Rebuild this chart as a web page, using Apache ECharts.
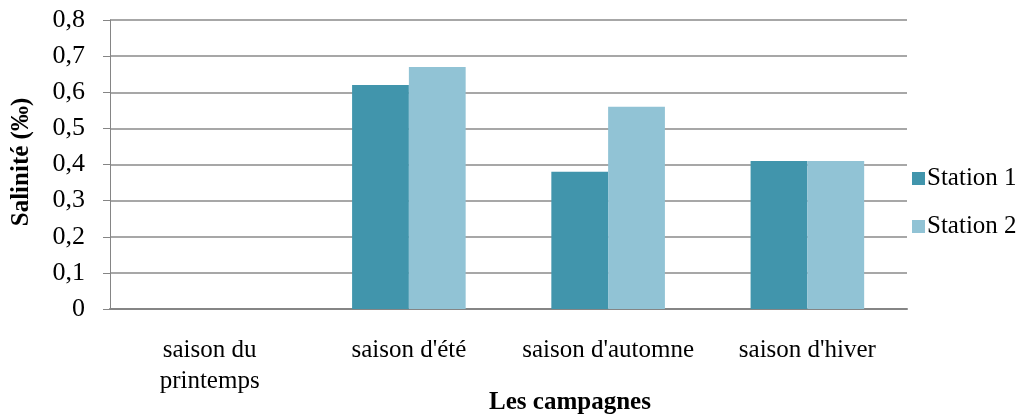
<!DOCTYPE html>
<html>
<head>
<meta charset="utf-8">
<script src="https://cdn.jsdelivr.net/npm/echarts@6/dist/echarts.min.js"></script>
<style>
  html, body { margin: 0; padding: 0; background: #fff; }
  #chart { width: 1021px; height: 416px; }
</style>
</head>
<body>
<div id="chart"></div>
<script>
// Salinity per sampling campaign, two stations
const categories = ['saison du\nprintemps', "saison d'été", "saison d'automne", "saison d'hiver"];
const station1 = [0, 0.62, 0.38, 0.41];
const station2 = [0, 0.67, 0.56, 0.41];
const seriesNames = ['Station 1', 'Station 2'];
const yMin = 0, yMax = 0.8, yStep = 0.1;

const FONT = '"Liberation Serif", "DejaVu Serif", serif';
const chart = echarts.init(document.getElementById('chart'));

chart.setOption({
  animation: false,
  textStyle: { fontFamily: FONT, color: '#000' },
  grid: { left: 110, right: 114, top: 20, bottom: 107, containLabel: false },
  legend: {
    orient: 'vertical',
    left: 907,
    top: 161,
    itemWidth: 13,
    itemHeight: 13,
    itemGap: 23,
    icon: 'rect',
    textStyle: { fontFamily: FONT, fontSize: 25, color: '#000', padding: [0, 0, 0, -3] },
    data: seriesNames
  },
  xAxis: {
    type: 'category',
    data: categories,
    axisLine: { lineStyle: { color: '#858585', width: 2 } },
    axisTick: { show: false },
    axisLabel: {
      fontFamily: FONT, fontSize: 25, color: '#000',
      lineHeight: 31, margin: 26, interval: 0
    }
  },
  yAxis: {
    type: 'value',
    min: yMin, max: yMax, interval: yStep,
    axisLine: { show: true, lineStyle: { color: '#858585', width: 1 } },
    axisTick: { show: true, length: 7, lineStyle: { color: '#858585' } },
    splitLine: { lineStyle: { color: '#8a8a8a', width: 1.6 } },
    axisLabel: {
      fontFamily: FONT, fontSize: 26, color: '#000', margin: 25,
      formatter: v => v === 0 ? '0' : v.toFixed(1).replace('.', ',')
    }
  },
  graphic: [
    {
      type: 'text',
      x: 570, y: 403,
      style: {
        text: 'Les campagnes', font: 'bold 25px ' + FONT, fill: '#000',
        textAlign: 'center', textVerticalAlign: 'middle'
      }
    },
    {
      type: 'text',
      x: 22, y: 162,
      rotation: Math.PI / 2,
      style: {
        text: 'Salinité (‰)', font: 'bold 25px ' + FONT, fill: '#000',
        textAlign: 'center', textVerticalAlign: 'middle'
      }
    }
  ],
  series: [
    {
      name: seriesNames[0], type: 'bar', data: station1,
      barGap: '0%', barCategoryGap: '43%',
      itemStyle: { color: '#4195ac' }
    },
    {
      name: seriesNames[1], type: 'bar', data: station2,
      barGap: '0%', barCategoryGap: '43%',
      itemStyle: { color: '#91c3d5' }
    }
  ]
});
</script>
</body>
</html>
